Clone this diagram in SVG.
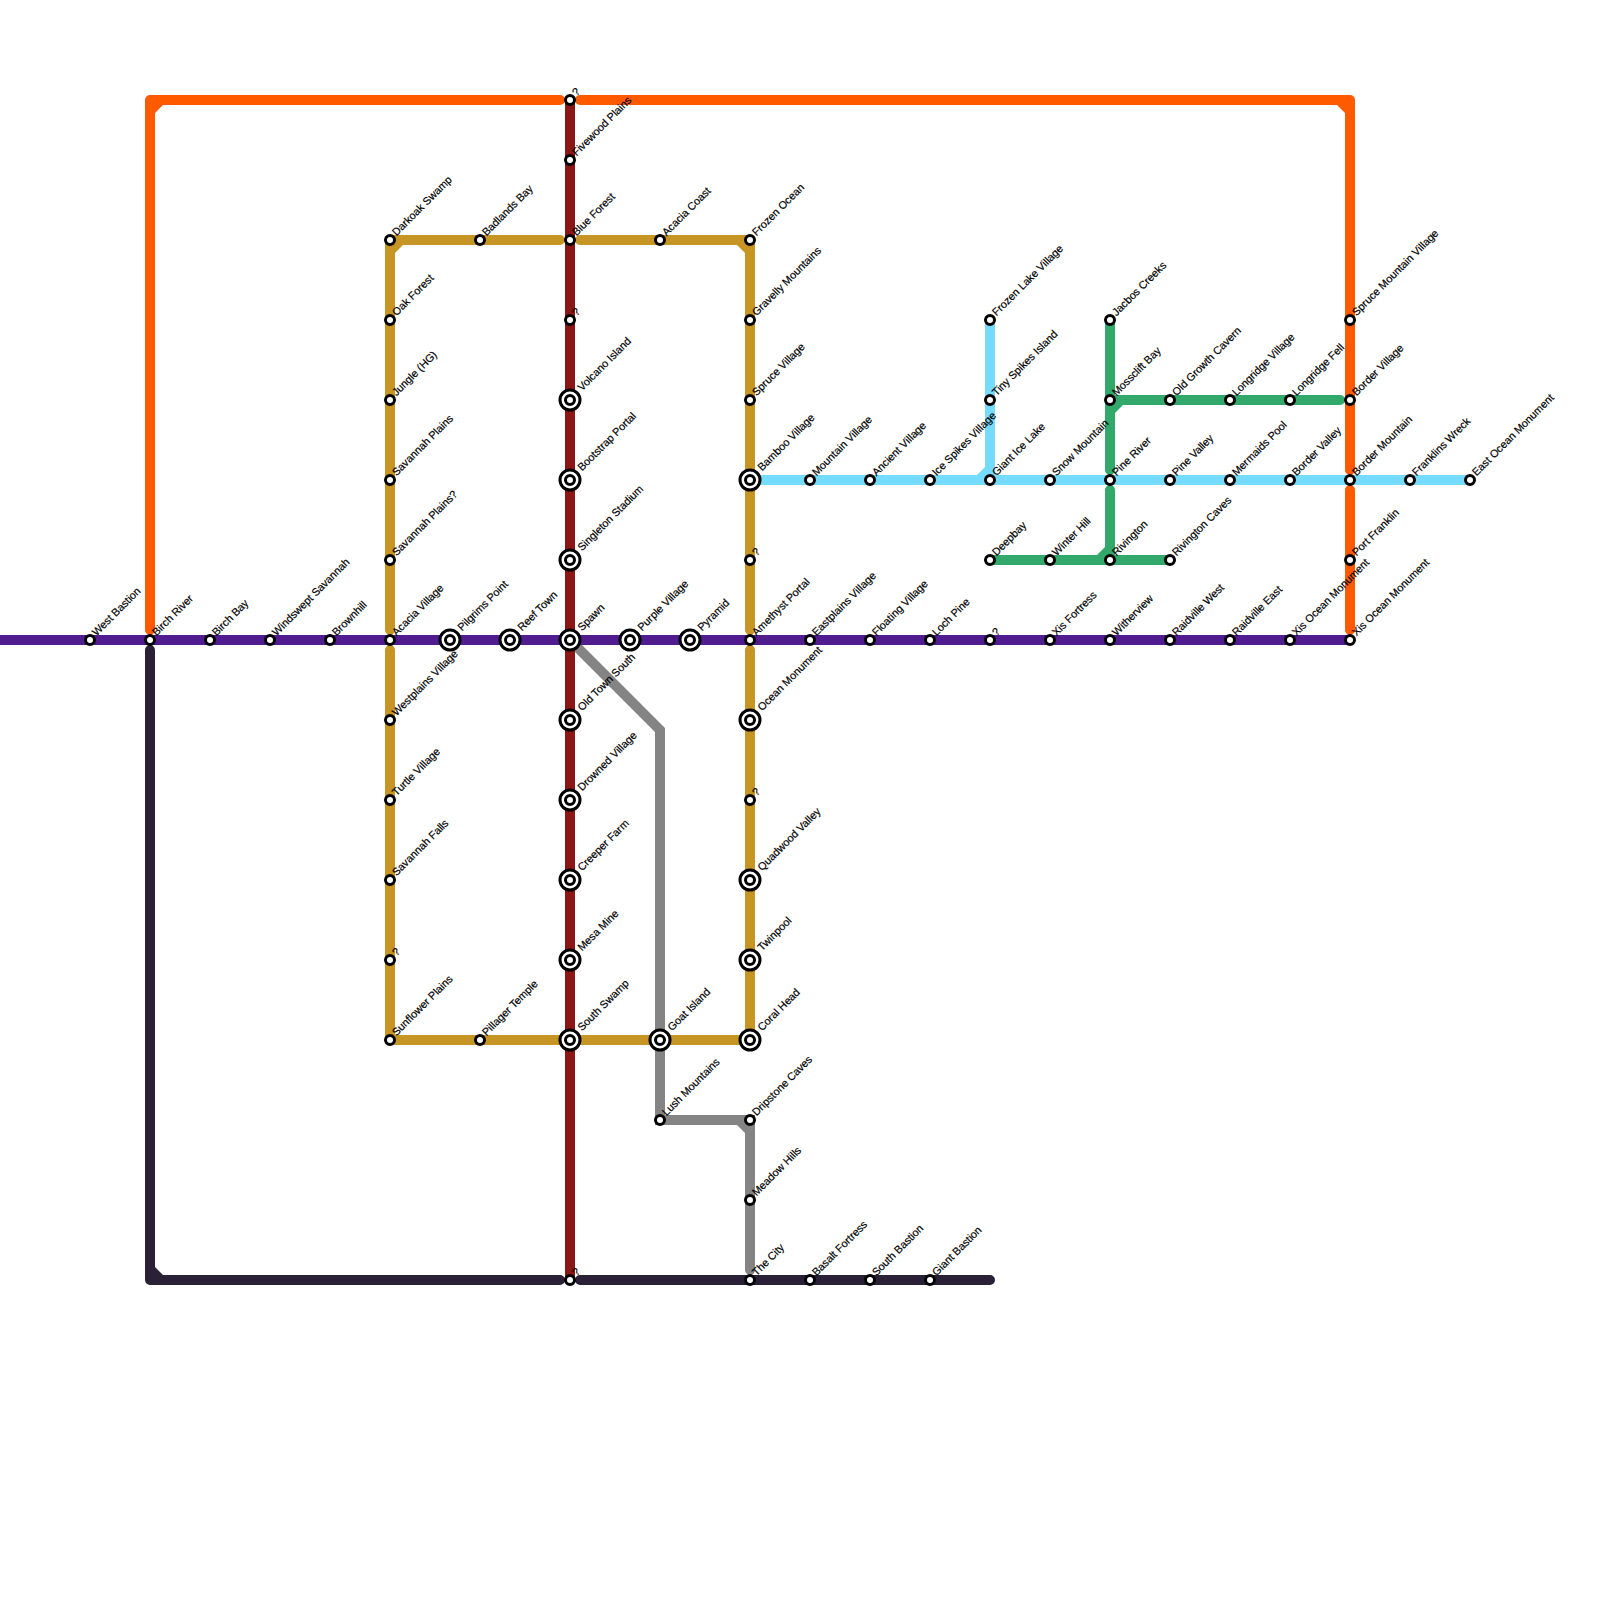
<svg xmlns="http://www.w3.org/2000/svg" width="1600" height="1600" viewBox="0 0 1600 1600">
<style>
.l{fill:none;stroke-width:10;stroke-linecap:round;stroke-linejoin:round}
.o{stroke:#ff5a00}.d{stroke:#8b1616}.g{stroke:#c79524}.p{stroke:#501c90}.k{stroke:#2b2137}.b{stroke:#76dcff}.e{stroke:#32a96b}.y{stroke:#848484}
.s{fill:#fff;stroke:#000;stroke-width:3}
text{font-family:"Liberation Sans",Arial,sans-serif;font-size:10.8px;fill:#000;stroke:#000;stroke-width:.2px}
</style>
<rect width="1600" height="1600" fill="#fff"/>
<g id="connectors">
<path class="l k" d="M150 650V1280H560M580 1280H990"/><path fill="#2b2137" d="M155 1275h8l-8-8z"/>
<path class="l o" d="M150 630V100H560M580 100H1350V470M1350 490V630"/><path fill="#ff5a00" d="M155 105h8l-8 8zM1345 105h-8l8 8z"/>
<path class="l y" style="stroke-linejoin:miter" d="M570 640L660 730V1120H750V1270"/><path fill="#848484" d="M745 1125h-8l8 8z"/>
<path class="l g" d="M390 630V240H560M580 240H750V630M750 650V1040H390V650"/><path fill="#c79524" d="M395 245h8l-8 8zM745 245h-8l8 8z"/>
<path class="l d" d="M570 100V1280"/>
<path class="l p" d="M0 640H1350"/>
<path class="l e" d="M1110 320V470M1110 490V560M990 560H1170M1110 400H1340"/><path fill="#32a96b" d="M1115 405h8l-8 8zM1105 555h-8l8-8z"/>
<path class="l b" d="M750 480H1470M990 320V480"/><path fill="#76dcff" d="M985 475h-8l8-8z"/>
</g>
<defs>
<g id="sm"><circle class="s" r="4.5"/></g>
<g id="bg"><circle class="s" r="10"/><circle class="s" r="4.5"/></g>
</defs>
<g id="n-west-bastion"><use href="#sm" x="90" y="640"/><text transform="translate(96.5 636.5) rotate(-45)">West Bastion</text></g>
<g id="n-birch-river"><use href="#sm" x="150" y="640"/><text transform="translate(156.5 636.5) rotate(-45)">Birch River</text></g>
<g id="n-birch-bay"><use href="#sm" x="210" y="640"/><text transform="translate(216.5 636.5) rotate(-45)">Birch Bay</text></g>
<g id="n-windswept-savannah"><use href="#sm" x="270" y="640"/><text transform="translate(276.5 636.5) rotate(-45)">Windswept Savannah</text></g>
<g id="n-brownhill"><use href="#sm" x="330" y="640"/><text transform="translate(336.5 636.5) rotate(-45)">Brownhill</text></g>
<g id="n-acacia-village"><use href="#sm" x="390" y="640"/><text transform="translate(396.5 636.5) rotate(-45)">Acacia Village</text></g>
<g id="n-pilgrims-point"><use href="#bg" x="450" y="640"/><text transform="translate(462 631.5) rotate(-45)">Pilgrims Point</text></g>
<g id="n-reef-town"><use href="#bg" x="510" y="640"/><text transform="translate(522 631.5) rotate(-45)">Reef Town</text></g>
<g id="n-spawn"><use href="#bg" x="570" y="640"/><text transform="translate(582 631.5) rotate(-45)">Spawn</text></g>
<g id="n-purple-village"><use href="#bg" x="630" y="640"/><text transform="translate(642 631.5) rotate(-45)">Purple Village</text></g>
<g id="n-pyramid"><use href="#bg" x="690" y="640"/><text transform="translate(702 631.5) rotate(-45)">Pyramid</text></g>
<g id="n-amethyst-portal"><use href="#sm" x="750" y="640"/><text transform="translate(756.5 636.5) rotate(-45)">Amethyst Portal</text></g>
<g id="n-eastplains-village"><use href="#sm" x="810" y="640"/><text transform="translate(816.5 636.5) rotate(-45)">Eastplains Village</text></g>
<g id="n-floating-village"><use href="#sm" x="870" y="640"/><text transform="translate(876.5 636.5) rotate(-45)">Floating Village</text></g>
<g id="n-loch-pine"><use href="#sm" x="930" y="640"/><text transform="translate(936.5 636.5) rotate(-45)">Loch Pine</text></g>
<g id="n-unknown-990-640"><use href="#sm" x="990" y="640"/><text transform="translate(996.5 636.5) rotate(-45)">?</text></g>
<g id="n-xis-fortress"><use href="#sm" x="1050" y="640"/><text transform="translate(1056.5 636.5) rotate(-45)">Xis Fortress</text></g>
<g id="n-witherview"><use href="#sm" x="1110" y="640"/><text transform="translate(1116.5 636.5) rotate(-45)">Witherview</text></g>
<g id="n-raidville-west"><use href="#sm" x="1170" y="640"/><text transform="translate(1176.5 636.5) rotate(-45)">Raidville West</text></g>
<g id="n-raidville-east"><use href="#sm" x="1230" y="640"/><text transform="translate(1236.5 636.5) rotate(-45)">Raidville East</text></g>
<g id="n-xis-ocean-monument-1"><use href="#sm" x="1290" y="640"/><text transform="translate(1296.5 636.5) rotate(-45)">Xis Ocean Monument</text></g>
<g id="n-xis-ocean-monument-2"><use href="#sm" x="1350" y="640"/><text transform="translate(1356.5 636.5) rotate(-45)">Xis Ocean Monument</text></g>
<g id="n-unknown-570-100"><use href="#sm" x="570" y="100"/><text transform="translate(576.5 96.5) rotate(-45)">?</text></g>
<g id="n-fivewood-plains"><use href="#sm" x="570" y="160"/><text transform="translate(576.5 156.5) rotate(-45)">Fivewood Plains</text></g>
<g id="n-blue-forest"><use href="#sm" x="570" y="240"/><text transform="translate(576.5 236.5) rotate(-45)">Blue Forest</text></g>
<g id="n-unknown-570-320"><use href="#sm" x="570" y="320"/><text transform="translate(576.5 316.5) rotate(-45)">?</text></g>
<g id="n-volcano-island"><use href="#bg" x="570" y="400"/><text transform="translate(582 391.5) rotate(-45)">Volcano Island</text></g>
<g id="n-bootstrap-portal"><use href="#bg" x="570" y="480"/><text transform="translate(582 471.5) rotate(-45)">Bootstrap Portal</text></g>
<g id="n-singleton-stadium"><use href="#bg" x="570" y="560"/><text transform="translate(582 551.5) rotate(-45)">Singleton Stadium</text></g>
<g id="n-old-town-south"><use href="#bg" x="570" y="720"/><text transform="translate(582 711.5) rotate(-45)">Old Town South</text></g>
<g id="n-drowned-village"><use href="#bg" x="570" y="800"/><text transform="translate(582 791.5) rotate(-45)">Drowned Village</text></g>
<g id="n-creeper-farm"><use href="#bg" x="570" y="880"/><text transform="translate(582 871.5) rotate(-45)">Creeper Farm</text></g>
<g id="n-mesa-mine"><use href="#bg" x="570" y="960"/><text transform="translate(582 951.5) rotate(-45)">Mesa Mine</text></g>
<g id="n-south-swamp"><use href="#bg" x="570" y="1040"/><text transform="translate(582 1031.5) rotate(-45)">South Swamp</text></g>
<g id="n-unknown-570-1280"><use href="#sm" x="570" y="1280"/><text transform="translate(576.5 1276.5) rotate(-45)">?</text></g>
<g id="n-darkoak-swamp"><use href="#sm" x="390" y="240"/><text transform="translate(396.5 236.5) rotate(-45)">Darkoak Swamp</text></g>
<g id="n-oak-forest"><use href="#sm" x="390" y="320"/><text transform="translate(396.5 316.5) rotate(-45)">Oak Forest</text></g>
<g id="n-jungle-hg"><use href="#sm" x="390" y="400"/><text transform="translate(396.5 396.5) rotate(-45)">Jungle (HG)</text></g>
<g id="n-savannah-plains"><use href="#sm" x="390" y="480"/><text transform="translate(396.5 476.5) rotate(-45)">Savannah Plains</text></g>
<g id="n-savannah-plains-q"><use href="#sm" x="390" y="560"/><text transform="translate(396.5 556.5) rotate(-45)">Savannah Plains?</text></g>
<g id="n-westplains-village"><use href="#sm" x="390" y="720"/><text transform="translate(396.5 716.5) rotate(-45)">Westplains Village</text></g>
<g id="n-turtle-village"><use href="#sm" x="390" y="800"/><text transform="translate(396.5 796.5) rotate(-45)">Turtle Village</text></g>
<g id="n-savannah-falls"><use href="#sm" x="390" y="880"/><text transform="translate(396.5 876.5) rotate(-45)">Savannah Falls</text></g>
<g id="n-unknown-390-960"><use href="#sm" x="390" y="960"/><text transform="translate(396.5 956.5) rotate(-45)">?</text></g>
<g id="n-sunflower-plains"><use href="#sm" x="390" y="1040"/><text transform="translate(396.5 1036.5) rotate(-45)">Sunflower Plains</text></g>
<g id="n-badlands-bay"><use href="#sm" x="480" y="240"/><text transform="translate(486.5 236.5) rotate(-45)">Badlands Bay</text></g>
<g id="n-pillager-temple"><use href="#sm" x="480" y="1040"/><text transform="translate(486.5 1036.5) rotate(-45)">Pillager Temple</text></g>
<g id="n-acacia-coast"><use href="#sm" x="660" y="240"/><text transform="translate(666.5 236.5) rotate(-45)">Acacia Coast</text></g>
<g id="n-frozen-ocean"><use href="#sm" x="750" y="240"/><text transform="translate(756.5 236.5) rotate(-45)">Frozen Ocean</text></g>
<g id="n-gravelly-mountains"><use href="#sm" x="750" y="320"/><text transform="translate(756.5 316.5) rotate(-45)">Gravelly Mountains</text></g>
<g id="n-spruce-village"><use href="#sm" x="750" y="400"/><text transform="translate(756.5 396.5) rotate(-45)">Spruce Village</text></g>
<g id="n-bamboo-village"><use href="#bg" x="750" y="480"/><text transform="translate(762 471.5) rotate(-45)">Bamboo Village</text></g>
<g id="n-unknown-750-560"><use href="#sm" x="750" y="560"/><text transform="translate(756.5 556.5) rotate(-45)">?</text></g>
<g id="n-ocean-monument"><use href="#bg" x="750" y="720"/><text transform="translate(762 711.5) rotate(-45)">Ocean Monument</text></g>
<g id="n-unknown-750-800"><use href="#sm" x="750" y="800"/><text transform="translate(756.5 796.5) rotate(-45)">?</text></g>
<g id="n-quadwood-valley"><use href="#bg" x="750" y="880"/><text transform="translate(762 871.5) rotate(-45)">Quadwood Valley</text></g>
<g id="n-twinpool"><use href="#bg" x="750" y="960"/><text transform="translate(762 951.5) rotate(-45)">Twinpool</text></g>
<g id="n-coral-head"><use href="#bg" x="750" y="1040"/><text transform="translate(762 1031.5) rotate(-45)">Coral Head</text></g>
<g id="n-goat-island"><use href="#bg" x="660" y="1040"/><text transform="translate(672 1031.5) rotate(-45)">Goat Island</text></g>
<g id="n-lush-mountains"><use href="#sm" x="660" y="1120"/><text transform="translate(666.5 1116.5) rotate(-45)">Lush Mountains</text></g>
<g id="n-dripstone-caves"><use href="#sm" x="750" y="1120"/><text transform="translate(756.5 1116.5) rotate(-45)">Dripstone Caves</text></g>
<g id="n-meadow-hills"><use href="#sm" x="750" y="1200"/><text transform="translate(756.5 1196.5) rotate(-45)">Meadow Hills</text></g>
<g id="n-the-city"><use href="#sm" x="750" y="1280"/><text transform="translate(756.5 1276.5) rotate(-45)">The City</text></g>
<g id="n-basalt-fortress"><use href="#sm" x="810" y="1280"/><text transform="translate(816.5 1276.5) rotate(-45)">Basalt Fortress</text></g>
<g id="n-south-bastion"><use href="#sm" x="870" y="1280"/><text transform="translate(876.5 1276.5) rotate(-45)">South Bastion</text></g>
<g id="n-giant-bastion"><use href="#sm" x="930" y="1280"/><text transform="translate(936.5 1276.5) rotate(-45)">Giant Bastion</text></g>
<g id="n-mountain-village"><use href="#sm" x="810" y="480"/><text transform="translate(816.5 476.5) rotate(-45)">Mountain Village</text></g>
<g id="n-ancient-village"><use href="#sm" x="870" y="480"/><text transform="translate(876.5 476.5) rotate(-45)">Ancient Village</text></g>
<g id="n-ice-spikes-village"><use href="#sm" x="930" y="480"/><text transform="translate(936.5 476.5) rotate(-45)">Ice Spikes Village</text></g>
<g id="n-giant-ice-lake"><use href="#sm" x="990" y="480"/><text transform="translate(996.5 476.5) rotate(-45)">Giant Ice Lake</text></g>
<g id="n-snow-mountain"><use href="#sm" x="1050" y="480"/><text transform="translate(1056.5 476.5) rotate(-45)">Snow Mountain</text></g>
<g id="n-pine-river"><use href="#sm" x="1110" y="480"/><text transform="translate(1116.5 476.5) rotate(-45)">Pine River</text></g>
<g id="n-pine-valley"><use href="#sm" x="1170" y="480"/><text transform="translate(1176.5 476.5) rotate(-45)">Pine Valley</text></g>
<g id="n-mermaids-pool"><use href="#sm" x="1230" y="480"/><text transform="translate(1236.5 476.5) rotate(-45)">Mermaids Pool</text></g>
<g id="n-border-valley"><use href="#sm" x="1290" y="480"/><text transform="translate(1296.5 476.5) rotate(-45)">Border Valley</text></g>
<g id="n-border-mountain"><use href="#sm" x="1350" y="480"/><text transform="translate(1356.5 476.5) rotate(-45)">Border Mountain</text></g>
<g id="n-franklins-wreck"><use href="#sm" x="1410" y="480"/><text transform="translate(1416.5 476.5) rotate(-45)">Franklins Wreck</text></g>
<g id="n-east-ocean-monument"><use href="#sm" x="1470" y="480"/><text transform="translate(1476.5 476.5) rotate(-45)">East Ocean Monument</text></g>
<g id="n-frozen-lake-village"><use href="#sm" x="990" y="320"/><text transform="translate(996.5 316.5) rotate(-45)">Frozen Lake Village</text></g>
<g id="n-tiny-spikes-island"><use href="#sm" x="990" y="400"/><text transform="translate(996.5 396.5) rotate(-45)">Tiny Spikes Island</text></g>
<g id="n-jacbos-creeks"><use href="#sm" x="1110" y="320"/><text transform="translate(1116.5 316.5) rotate(-45)">Jacbos Creeks</text></g>
<g id="n-mossclift-bay"><use href="#sm" x="1110" y="400"/><text transform="translate(1116.5 396.5) rotate(-45)">Mossclift Bay</text></g>
<g id="n-old-growth-cavern"><use href="#sm" x="1170" y="400"/><text transform="translate(1176.5 396.5) rotate(-45)">Old Growth Cavern</text></g>
<g id="n-longridge-village"><use href="#sm" x="1230" y="400"/><text transform="translate(1236.5 396.5) rotate(-45)">Longridge Village</text></g>
<g id="n-longridge-fell"><use href="#sm" x="1290" y="400"/><text transform="translate(1296.5 396.5) rotate(-45)">Longridge Fell</text></g>
<g id="n-border-village"><use href="#sm" x="1350" y="400"/><text transform="translate(1356.5 396.5) rotate(-45)">Border Village</text></g>
<g id="n-deepbay"><use href="#sm" x="990" y="560"/><text transform="translate(996.5 556.5) rotate(-45)">Deepbay</text></g>
<g id="n-winter-hill"><use href="#sm" x="1050" y="560"/><text transform="translate(1056.5 556.5) rotate(-45)">Winter Hill</text></g>
<g id="n-rivington"><use href="#sm" x="1110" y="560"/><text transform="translate(1116.5 556.5) rotate(-45)">Rivington</text></g>
<g id="n-rivington-caves"><use href="#sm" x="1170" y="560"/><text transform="translate(1176.5 556.5) rotate(-45)">Rivington Caves</text></g>
<g id="n-spruce-mountain-village"><use href="#sm" x="1350" y="320"/><text transform="translate(1356.5 316.5) rotate(-45)">Spruce Mountain Village</text></g>
<g id="n-port-franklin"><use href="#sm" x="1350" y="560"/><text transform="translate(1356.5 556.5) rotate(-45)">Port Franklin</text></g>
</svg>
